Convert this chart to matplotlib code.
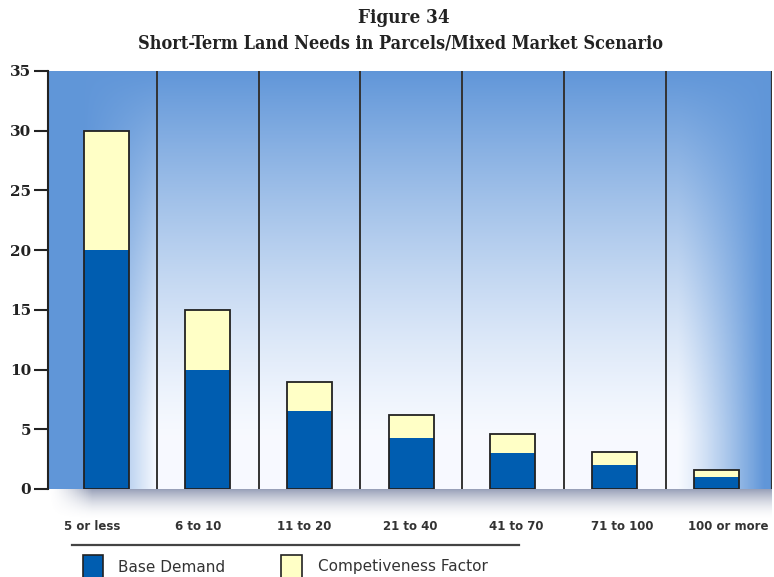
import numpy as np
import matplotlib
matplotlib.use('Agg')
import matplotlib.pyplot as plt
from matplotlib.patches import Rectangle
from matplotlib.lines import Line2D

categories = ['5 or less', '6 to 10', '11 to 20', '21 to 40', '41 to 70', '71 to 100', '100 or more']
base_demand = [20, 10, 6.5, 4.3, 3.0, 2.0, 1.0]
competitiveness = [10, 5, 2.5, 1.9, 1.6, 1.1, 0.6]
y_ticks = [0, 5, 10, 15, 20, 25, 30, 35]

BLUE = '#005DB0'
YELLOW = '#FFFFC6'
EDGE = '#222222'

W, H = 774, 577
fig = plt.figure(figsize=(W / 100, H / 100), dpi=100)

# plot area: left 48px, right 772px, top 71px, bottom 489px
ax_l, ax_r, ax_t, ax_b = 48, 772, 71, 489
ax = fig.add_axes([ax_l / W, 1 - ax_b / H, (ax_r - ax_l) / W, (ax_b - ax_t) / H])

x = np.arange(len(categories))
xlim = (-0.572, 6.547)
ylim = (0, 35)
ax.set_xlim(*xlim)
ax.set_ylim(*ylim)

# blue gradient background
ny, nx = 300, 600
fx = np.linspace(0, 1, nx)[None, :]
fy = np.linspace(1, 0, ny)[:, None]
v = np.clip((fy - 0.12) / 0.88, 0, 1) ** 1.3
l = np.clip((0.15 - fx) / 0.10, 0, 1)
r = np.clip((fx - 0.87) / 0.12, 0, 1) ** 1.2
a = 1 - (1 - v) * (1 - l) * (1 - r)
white = np.array([0.97, 0.98, 1.0])
blue = np.array([0.38, 0.59, 0.85])
img = white[None, None, :] * (1 - a[..., None]) + blue[None, None, :] * a[..., None]
ax.imshow(img, extent=[xlim[0], xlim[1], ylim[0], ylim[1]], aspect='auto', zorder=0)

# shadow under the plot area
sh_ax = fig.add_axes([ax_l / W, 1 - 520 / H, (ax_r - ax_l) / W, (520 - ax_b) / H], zorder=-1)
sy = np.linspace(0, 1, 60)[:, None]
sx = np.linspace(0, 1, 400)[None, :]
alpha = (1 - sy) ** 1.8 * np.clip(sx / 0.06, 0, 1) ** 1.5 * 0.7
shadow = np.zeros((60, 400, 4))
shadow[..., 0] = 0.42
shadow[..., 1] = 0.47
shadow[..., 2] = 0.60
shadow[..., 3] = alpha
sh_ax.imshow(shadow, aspect='auto', extent=[0, 1, 0, 1])
sh_ax.axis('off')

# column dividers
for i in range(len(categories) - 1):
    ax.axvline(i + 0.5, color='#333333', lw=1.4, zorder=1)
ax.axvline(xlim[1], color='#333333', lw=1.6, zorder=1)

# stacked bars
width = 0.443
totals = [b + c for b, c in zip(base_demand, competitiveness)]
ax.bar(x, base_demand, width, color=BLUE, lw=0, zorder=2)
ax.bar(x, competitiveness, width, bottom=base_demand, color=YELLOW, lw=0, zorder=2)
ax.bar(x, totals, width, fill=False, edgecolor=EDGE, lw=1.3, zorder=3)

for s in ['top', 'right', 'bottom']:
    ax.spines[s].set_visible(False)
ax.spines['left'].set_color('#222222')
ax.spines['left'].set_linewidth(1.5)
ax.set_yticks(y_ticks)
ax.set_yticklabels([str(t) for t in y_ticks], family='DejaVu Serif', fontweight='bold',
                   fontsize=11, color='#222222')
ax.tick_params(axis='y', length=10, width=1.5, color='#222222', pad=2)

# category labels sit a little off the bar centres, as in the original
label_pos = np.linspace(-0.14, 6.12, len(categories))
ax.set_xticks(label_pos)
ax.set_xticklabels(categories, fontsize=8.5, fontweight='bold', color='#333333')
ax.tick_params(axis='x', length=0, pad=22)

# titles
fig.text(0.522, 1 - 18 / H, 'Figure 34', ha='center', va='center', fontsize=13.5,
         family='DejaVu Serif', fontweight='bold', fontstretch='condensed', color='#222222')
fig.text(0.517, 1 - 44 / H, 'Short-Term Land Needs in Parcels/Mixed Market Scenario',
         ha='center', va='center', fontsize=13, family='DejaVu Serif', fontweight='bold',
         fontstretch='condensed', color='#222222')

# legend
fig.add_artist(Line2D([72 / W, 519 / W], [1 - 545 / H, 1 - 545 / H], color='#444444', lw=1.6))
fig.add_artist(Rectangle((83 / W, -0.02), 20 / W, 1 - 555 / H + 0.02, transform=fig.transFigure,
                         facecolor=BLUE, edgecolor=EDGE, lw=1.2))
fig.add_artist(Rectangle((281 / W, -0.02), 21 / W, 1 - 555 / H + 0.02, transform=fig.transFigure,
                         facecolor=YELLOW, edgecolor=EDGE, lw=1.2))
fig.text(118 / W, 1 - 567 / H, 'Base Demand', ha='left', va='center', fontsize=11, color='#333333')
fig.text(318 / W, 1 - 567 / H, 'Competiveness Factor', ha='left', va='center', fontsize=11,
         color='#333333')

fig.savefig('out.png', dpi=100)
